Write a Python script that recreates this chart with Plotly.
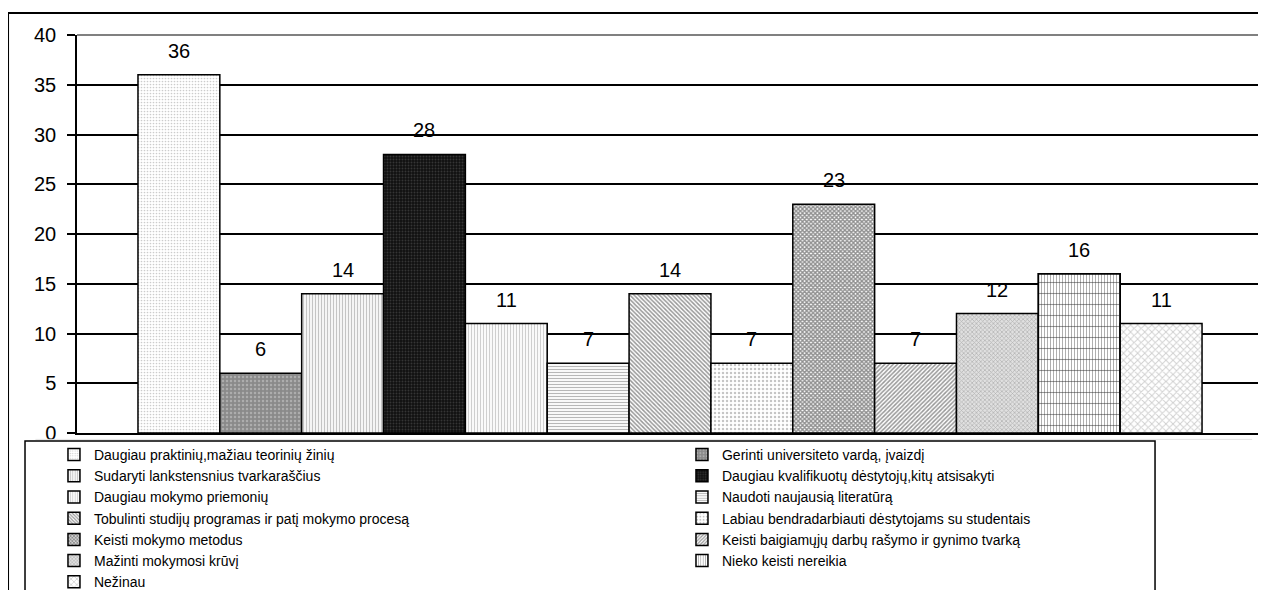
import plotly.graph_objects as go

categories = [
    "Daugiau praktinių,mažiau teorinių žinių",
    "Gerinti universiteto vardą, įvaizdį",
    "Sudaryti lankstensnius tvarkaraščius",
    "Daugiau kvalifikuotų dėstytojų,kitų atsisakyti",
    "Daugiau mokymo priemonių",
    "Naudoti naujausią literatūrą",
    "Tobulinti studijų programas ir patį mokymo procesą",
    "Labiau bendradarbiauti dėstytojams su studentais",
    "Keisti mokymo metodus",
    "Keisti baigiamųjų darbų rašymo ir gynimo tvarką",
    "Mažinti mokymosi krūvį",
    "Nieko keisti nereikia",
    "Nežinau",
]
values = [36, 6, 14, 28, 11, 7, 14, 7, 23, 7, 12, 16, 11]
y_ticks = [0, 5, 10, 15, 20, 25, 30, 35, 40]

# (background, pattern shape, pattern color, size, solidity)
styles = [
    ("#ffffff", ".", "#9a9a9a", 3, 0.25),
    ("#8a8a8a", ".", "#d0d0d0", 4, 0.3),
    ("#ffffff", "|", "#8a8a8a", 3, 0.45),
    ("#111111", ".", "#5a5a5a", 3, 0.3),
    ("#ffffff", "|", "#a0a0a0", 3, 0.4),
    ("#ffffff", "-", "#707070", 3, 0.4),
    ("#ffffff", "\\", "#303030", 3, 0.5),
    ("#ffffff", ".", "#8a8a8a", 4, 0.3),
    ("#ffffff", "x", "#202020", 3, 0.7),
    ("#ffffff", "/", "#303030", 3, 0.5),
    ("#e0e0e0", "x", "#808080", 3, 0.4),
    ("#ffffff", "|", "#606060", 3, 0.35),
    ("#ffffff", "x", "#a0a0a0", 5, 0.35),
]
# optional second overlay pattern per bar
overlay = {11: ("-", "#303030", 11, 0.1)}

FONT = "Liberation Sans, Arial, sans-serif"

fig = go.Figure()
for i, (name, v) in enumerate(zip(categories, values)):
    bg, shp, fg, sz, sol = styles[i]
    fig.add_trace(go.Bar(
        x=[i], y=[v], name=name, width=1,
        marker=dict(color=bg, line=dict(color="black", width=1.5),
                    pattern=dict(shape=shp, fgcolor=fg, size=sz, solidity=sol,
                                 fillmode="overlay")),
    ))
    if i in overlay:
        s2, fg2, sz2, sol2 = overlay[i]
        fig.add_trace(go.Bar(
            x=[i], y=[v], name=name, width=1, showlegend=False,
            marker=dict(color="rgba(0,0,0,0)", line=dict(color="black", width=1.5),
                        pattern=dict(shape=s2, fgcolor=fg2, size=sz2, solidity=sol2,
                                     fillmode="overlay")),
        ))
    fig.add_annotation(x=i, y=v, text=str(v), showarrow=False, yanchor="bottom",
                       yshift=11, font=dict(family=FONT, size=20, color="black"))

fig.update_layout(
    width=1258, height=582,
    margin=dict(l=69, r=2, t=27, b=157, autoexpand=False),
    paper_bgcolor="white", plot_bgcolor="white",
    barmode="overlay",
    font=dict(family=FONT, color="black"),
    showlegend=True,
    legend=dict(orientation="h", x=-0.0194, xanchor="left", y=-0.0151, yanchor="top",
                entrywidth=583, entrywidthmode="pixels", traceorder="normal",
                font=dict(family=FONT, size=14, color="black"),
                bgcolor="rgba(0,0,0,0)", borderwidth=0),
    xaxis=dict(range=[-1.245, 13.257], showticklabels=False, showgrid=False,
               zeroline=False, ticks="", showline=True, linecolor="black",
               linewidth=1.5, fixedrange=True),
    yaxis=dict(range=[0, 40], tickvals=y_ticks, showgrid=True, gridcolor="black",
               gridwidth=1.5, zeroline=False, showline=True, linecolor="black",
               linewidth=1.5, ticks="outside", ticklen=8, tickwidth=1.5,
               tickcolor="black", ticklabelstandoff=7,
               tickfont=dict(family=FONT, size=20, color="black")),
    shapes=[
        # plot area top and right border (gray)
        dict(type="line", xref="paper", yref="paper", x0=0, x1=1, y0=1, y1=1,
             line=dict(color="#808080", width=2), layer="above"),
        dict(type="line", xref="paper", yref="paper", x0=1, x1=1, y0=0, y1=1,
             line=dict(color="#808080", width=2), layer="above"),
        # faint line below plot area
        dict(type="line", xref="paper", yref="paper", x0=-0.035, x1=0.99,
             y0=-0.016, y1=-0.016, line=dict(color="#e4e4e4", width=1)),
        # legend box
        dict(type="rect", xref="paper", yref="paper", x0=-0.0438, x1=0.9082,
             y0=-0.45, y1=-0.0201, line=dict(color="black", width=1.5)),
        # outer chart frame
        dict(type="rect", xref="paper", yref="paper", x0=-0.0581, x1=1.05,
             y0=-0.5, y1=1.0553, line=dict(color="black", width=2)),
    ],
)

fig.write_html("out.html")
